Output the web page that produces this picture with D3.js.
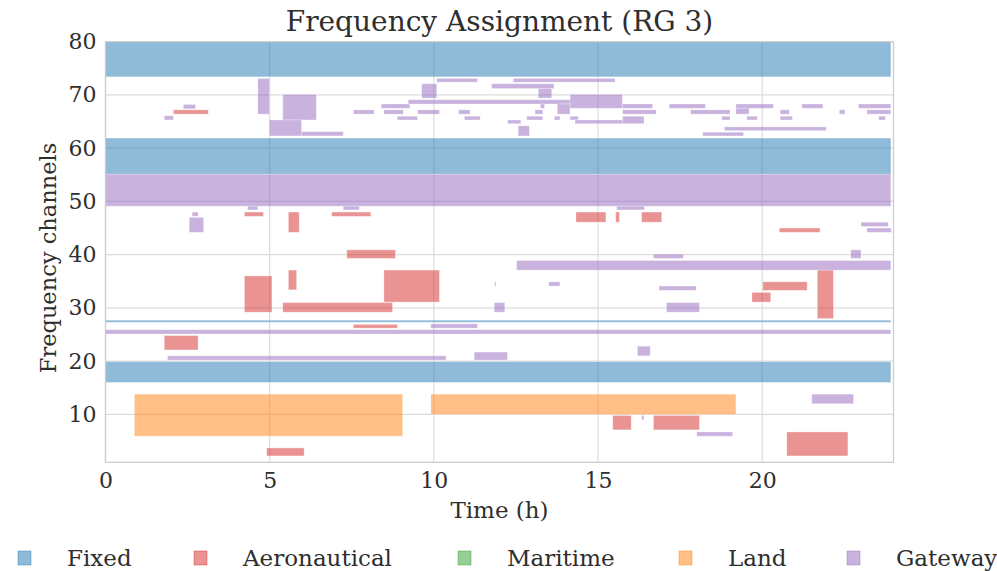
<!DOCTYPE html>
<html>
<head>
<meta charset="utf-8">
<script src="https://cdn.jsdelivr.net/npm/d3@7"></script>
<style>
  html, body { margin: 0; padding: 0; background: #fff; }
  svg text { font-family: "DejaVu Serif", serif; fill: #2e2e2e; }
</style>
</head>
<body>
<svg id="chart" width="997" height="571"></svg>
<script>
// Service categories and their colours (drawn at half opacity)
const categories = ["Fixed", "Aeronautical", "Maritime", "Land", "Gateway"];
const colors = ["#1f77b4", "#d62728", "#2ca02c", "#ff7f0e", "#9467bd"];

// Each block: [start hour, end hour, lowest channel, highest channel]
const fixedBlocks = [
  [0, 23.92, 73.4, 80],
  [0, 23.92, 55.1, 61.9],
  [0, 23.92, 27.3, 27.7],
  [0, 23.92, 16.0, 19.9]
];

const aeronauticalBlocks = [
  [2.07, 3.13, 66.4, 67.2],
  [4.23, 4.81, 47.2, 48.0],
  [5.57, 5.90, 44.2, 48.0],
  [6.89, 8.08, 47.2, 48.0],
  [7.35, 8.83, 39.3, 40.9],
  [4.23, 5.07, 29.2, 36.0],
  [5.57, 5.82, 33.4, 37.1],
  [5.40, 8.74, 29.2, 31.0],
  [8.48, 10.17, 31.1, 37.1],
  [7.55, 8.89, 26.2, 26.9],
  [1.79, 2.82, 22.1, 24.8],
  [14.33, 15.24, 46.1, 48.0],
  [15.54, 15.65, 46.1, 48.0],
  [16.33, 16.94, 46.1, 48.0],
  [20.52, 21.76, 44.2, 45.0],
  [20.02, 21.37, 33.3, 34.9],
  [19.69, 20.26, 31.1, 32.9],
  [21.68, 22.17, 28.0, 37.1],
  [4.91, 6.05, 2.2, 3.7],
  [15.45, 16.01, 7.1, 9.8],
  [16.69, 18.09, 7.1, 9.8],
  [20.75, 22.61, 2.2, 6.7]
];

const maritimeBlocks = [];

const landBlocks = [
  [0.88, 9.05, 5.9, 13.8],
  [9.91, 19.20, 10.0, 13.8]
];

const gatewayBlocks = [
  [0, 23.92, 49.1, 55.1],
  [0, 23.92, 25.1, 25.9],
  [4.64, 4.99, 66.4, 73.1],
  [2.37, 2.74, 67.4, 68.2],
  [1.79, 2.07, 65.3, 66.1],
  [5.40, 6.42, 65.3, 70.1],
  [4.99, 5.97, 62.3, 65.3],
  [5.97, 7.24, 62.3, 63.1],
  [7.55, 8.18, 66.4, 67.2],
  [8.40, 9.27, 67.5, 68.3],
  [9.22, 14.15, 68.3, 69.1],
  [10.09, 11.33, 72.4, 73.1],
  [12.42, 15.52, 72.4, 73.1],
  [11.76, 13.66, 71.2, 72.1],
  [9.63, 10.09, 69.4, 72.1],
  [13.18, 13.59, 69.4, 71.2],
  [14.15, 15.74, 67.5, 70.1],
  [15.74, 16.66, 67.5, 68.3],
  [13.25, 13.37, 67.5, 68.3],
  [8.48, 9.07, 66.4, 67.2],
  [9.51, 10.17, 66.4, 67.2],
  [10.75, 11.10, 66.4, 67.2],
  [13.08, 13.32, 66.4, 67.2],
  [13.76, 14.15, 66.4, 68.3],
  [15.75, 16.77, 66.4, 67.2],
  [17.17, 18.27, 67.5, 68.3],
  [8.89, 9.50, 65.3, 66.0],
  [10.93, 11.41, 65.3, 66.0],
  [12.83, 13.32, 65.3, 66.0],
  [13.67, 13.84, 65.3, 66.0],
  [14.15, 14.40, 65.3, 66.0],
  [14.30, 15.75, 64.6, 65.3],
  [15.75, 16.40, 64.6, 66.0],
  [12.25, 12.65, 64.6, 65.3],
  [12.57, 12.91, 62.3, 64.2],
  [19.20, 20.34, 67.5, 68.3],
  [19.20, 19.60, 66.4, 67.5],
  [21.21, 21.85, 67.5, 68.3],
  [22.93, 23.92, 67.5, 68.3],
  [17.82, 19.02, 66.4, 67.2],
  [20.55, 20.83, 66.4, 67.2],
  [22.35, 22.52, 66.4, 67.2],
  [23.19, 23.92, 66.4, 67.2],
  [18.77, 19.02, 65.3, 66.0],
  [19.53, 19.85, 65.3, 66.0],
  [20.55, 20.92, 65.3, 66.0],
  [23.55, 23.75, 65.3, 66.0],
  [18.85, 21.95, 63.3, 64.0],
  [18.19, 19.43, 62.3, 63.0],
  [4.33, 4.64, 48.4, 49.1],
  [2.64, 2.82, 47.2, 48.0],
  [2.55, 2.99, 44.2, 47.0],
  [7.24, 7.73, 48.4, 49.1],
  [15.57, 16.41, 48.4, 49.1],
  [12.52, 23.92, 37.1, 38.9],
  [16.69, 17.60, 39.3, 40.1],
  [16.86, 17.99, 33.3, 34.1],
  [17.09, 18.09, 29.2, 31.0],
  [11.84, 12.16, 29.2, 31.0],
  [11.85, 11.89, 34.1, 34.9],
  [13.50, 13.84, 34.1, 34.9],
  [9.91, 11.33, 26.2, 27.0],
  [11.23, 12.24, 20.2, 21.7],
  [1.89, 10.37, 20.2, 21.0],
  [16.20, 16.59, 21.0, 22.8],
  [23.01, 23.84, 45.3, 46.1],
  [23.19, 23.93, 44.2, 45.0],
  [22.70, 23.01, 39.3, 40.9],
  [16.33, 16.40, 9.0, 9.8],
  [18.01, 19.10, 5.9, 6.7],
  [21.51, 22.78, 12.0, 13.8]
];

// Axis ticks
const xTicks = [0, 5, 10, 15, 20];
const yTicks = [10, 20, 30, 40, 50, 60, 70, 80];

const blocksByCategory = [fixedBlocks, aeronauticalBlocks, maritimeBlocks, landBlocks, gatewayBlocks];

const svg = d3.select("#chart");
const plot = { left: 105.5, right: 893.5, top: 41.7, bottom: 462.3 };

const x = d3.scaleLinear().domain([0, 24]).range([plot.left, plot.right]);
const y = d3.scaleLinear().domain([1, 80]).range([plot.bottom, plot.top]);

// Grid lines
const grid = svg.append("g");
grid.selectAll("line.gx").data(xTicks).join("line")
  .attr("x1", d => x(d)).attr("x2", d => x(d))
  .attr("y1", plot.top).attr("y2", plot.bottom)
  .attr("stroke", "#dcdcdc").attr("stroke-width", 1.2);
grid.selectAll("line.gy").data(yTicks).join("line")
  .attr("y1", d => y(d)).attr("y2", d => y(d))
  .attr("x1", plot.left).attr("x2", plot.right)
  .attr("stroke", "#dcdcdc").attr("stroke-width", 1.2);

// Occupancy blocks
const marks = svg.append("g");
blocksByCategory.forEach((blocks, i) => {
  marks.append("g").selectAll("rect").data(blocks).join("rect")
    .attr("x", d => x(d[0]))
    .attr("y", d => y(d[3]))
    .attr("width", d => x(d[1]) - x(d[0]))
    .attr("height", d => y(d[2]) - y(d[3]))
    .attr("fill", colors[i])
    .attr("fill-opacity", 0.5)
    .attr("stroke", "#ffffff")
    .attr("stroke-opacity", 0.35)
    .attr("stroke-width", 0.8);
});

// Frame
svg.append("rect")
  .attr("x", plot.left).attr("y", plot.top)
  .attr("width", plot.right - plot.left).attr("height", plot.bottom - plot.top)
  .attr("fill", "none").attr("stroke", "#cccccc").attr("stroke-width", 1.25);

// Axes (labels only, no tick marks)
const xAxis = svg.append("g")
  .attr("transform", `translate(0,${plot.bottom})`)
  .call(d3.axisBottom(x).tickValues(xTicks).tickSize(0).tickPadding(10));
const yAxis = svg.append("g")
  .attr("transform", `translate(${plot.left},0)`)
  .call(d3.axisLeft(y).tickValues(yTicks).tickSize(0).tickPadding(9));
[xAxis, yAxis].forEach(a => {
  a.select(".domain").remove();
  a.selectAll("text")
    .style("font-family", "'DejaVu Serif', serif")
    .style("font-size", "22px")
    .attr("fill", "#2e2e2e");
});

// Title and axis titles
svg.append("text")
  .attr("x", (plot.left + plot.right) / 2).attr("y", 31)
  .attr("text-anchor", "middle")
  .style("font-size", "28px")
  .text("Frequency Assignment (RG 3)");

svg.append("text")
  .attr("x", (plot.left + plot.right) / 2).attr("y", 518)
  .attr("text-anchor", "middle")
  .style("font-size", "23px")
  .text("Time (h)");

svg.append("text")
  .attr("transform", `translate(56,258) rotate(-90)`)
  .attr("text-anchor", "middle")
  .style("font-size", "22.5px")
  .text("Frequency channels");

// Legend along the bottom
const legendX = [67, 243, 507, 728, 896];
const legend = svg.append("g");
categories.forEach((c, i) => {
  const g = legend.append("g");
  g.append("rect")
    .attr("x", legendX[i] - 49).attr("y", 551)
    .attr("width", 13).attr("height", 14)
    .attr("fill", colors[i]).attr("fill-opacity", 0.5)
    .attr("stroke", colors[i]).attr("stroke-opacity", 0.5).attr("stroke-width", 0.8);
  g.append("text")
    .attr("x", legendX[i]).attr("y", 566)
    .style("font-size", "23px")
    .text(c);
});
</script>
</body>
</html>
